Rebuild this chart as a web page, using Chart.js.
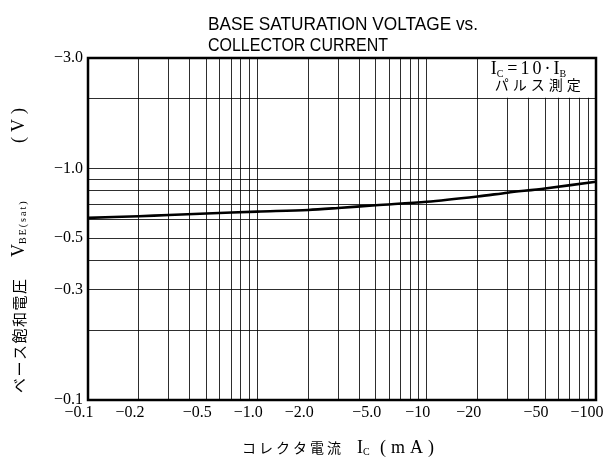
<!DOCTYPE html>
<html>
<head>
<meta charset="utf-8">
<script src="https://cdn.jsdelivr.net/npm/chart.js@4/dist/chart.umd.min.js"></script>
<style>
  html, body { margin: 0; padding: 0; background: #fff; }
  #wrap { width: 606px; height: 461px; }
</style>
</head>
<body>
<div id="wrap"><canvas id="chart" width="606" height="461"></canvas></div>
<script>
// Ic (mA, magnitude) vs VBE(sat) (V, magnitude); both are negative on the sheet
const currentMA = [0.1, 0.2, 0.3, 0.5, 1, 2, 3, 5, 10, 20, 30, 50, 100];
const vbeSat = [0.612, 0.622, 0.630, 0.639, 0.651, 0.662, 0.675, 0.694, 0.718, 0.757, 0.786, 0.820, 0.877];

const xGrid = [0.1, 0.2, 0.3, 0.4, 0.5, 0.6, 0.7, 0.8, 0.9, 1, 2, 3, 4, 5, 6, 7, 8, 9, 10, 20, 30, 40, 50, 60, 70, 80, 90, 100];
const xLabeled = [0.1, 0.2, 0.5, 1, 2, 5, 10, 20, 50, 100];
const xTickText = ['−0.1', '−0.2', '−0.5', '−1.0', '−2.0', '−5.0', '−10', '−20', '−50', '−100'];

const yGrid = [0.1, 0.2, 0.3, 0.4, 0.5, 0.6, 0.7, 0.8, 0.9, 1, 2, 3];
const yLabeled = [0.1, 0.3, 0.5, 1, 3];
const yTickText = ['−0.1', '−0.3', '−0.5', '−1.0', '−3.0'];

const TITLE = ['BASE SATURATION VOLTAGE vs.', 'COLLECTOR CURRENT'];
const NOTE_X0 = 20;   // note box spans from this current to the right edge
const NOTE_Y0 = 2;    // and from the top down to this voltage

const CJK = '"Noto Sans CJK JP"';
const SERIF = '"Liberation Serif"';
const GRID = 'rgba(0,0,0,0.82)';

const decor = {
  id: 'decor',
  beforeDatasetsDraw(chart) {
    const { ctx, chartArea: a, scales: { x, y } } = chart;
    const bx = x.getPixelForValue(NOTE_X0);
    const by = y.getPixelForValue(NOTE_Y0);
    ctx.save();
    ctx.fillStyle = '#fff';
    ctx.fillRect(bx + 1, a.top, a.right - bx - 1, by - a.top - 1);
    ctx.fillStyle = '#000';
    ctx.textBaseline = 'alphabetic';
    // Ic = 10·Ib
    let cx = bx + 13;
    const base = a.top + 16;
    ctx.font = '18px ' + SERIF;
    ctx.fillText('I', cx, base); cx += ctx.measureText('I').width;
    ctx.font = '10px ' + SERIF;
    ctx.fillText('C', cx, base + 3); cx += ctx.measureText('C').width + 4;
    ctx.font = '18px ' + SERIF;
    ctx.letterSpacing = '3px';
    ctx.fillText('=10·I', cx, base); cx += ctx.measureText('=10·I').width - 3;
    ctx.letterSpacing = '0px';
    ctx.font = '10px ' + SERIF;
    ctx.fillText('B', cx, base + 3);
    ctx.font = '14px ' + CJK;
    ctx.letterSpacing = '4px';
    ctx.fillText('パルス測定', bx + 17, a.top + 32);
    ctx.restore();
  },
  afterDraw(chart) {
    const { ctx, chartArea: a } = chart;
    ctx.save();
    ctx.strokeStyle = '#000';
    ctx.lineWidth = 2.5;
    ctx.strokeRect(a.left, a.top, a.right - a.left, a.bottom - a.top);

    ctx.fillStyle = '#000';
    ctx.textBaseline = 'alphabetic';
    ctx.font = '19px "Liberation Sans"';
    ctx.fillText(TITLE[0], 208, 30, 270);
    ctx.fillText(TITLE[1], 208, 51, 180);

    // x axis title
    ctx.textBaseline = 'middle';
    const ty = 448;
    ctx.font = '14px ' + CJK;
    ctx.letterSpacing = '3px';
    ctx.fillText('コレクタ電流', 242, ty);
    ctx.letterSpacing = '0px';
    ctx.font = '18px ' + SERIF;
    ctx.fillText('I', 357, ty);
    ctx.font = '10px ' + SERIF;
    ctx.fillText('C', 363, ty + 4);
    ctx.font = '18px ' + SERIF;
    ctx.letterSpacing = '5px';
    ctx.fillText('(mA)', 380, ty);

    // y axis title, rotated
    ctx.translate(19, 393);
    ctx.rotate(-Math.PI / 2);
    ctx.font = '15px ' + CJK;
    ctx.letterSpacing = '1.5px';
    ctx.fillText('ベース飽和電圧', 0, 0);
    ctx.letterSpacing = '0px';
    ctx.font = '18px ' + SERIF;
    ctx.fillText('V', 136, 0);
    ctx.font = '10px ' + SERIF;
    ctx.letterSpacing = '2px';
    ctx.fillText('BE(sat)', 149, 4);
    ctx.font = '18px ' + SERIF;
    ctx.letterSpacing = '5px';
    ctx.fillText('(V)', 250, 0);
    ctx.restore();
  }
};

function pickLabel(values, texts) {
  return v => {
    const i = values.findIndex(t => Math.abs(t - v) < 1e-9);
    return i < 0 ? '' : texts[i];
  };
}

new Chart(document.getElementById('chart'), {
  type: 'line',
  data: {
    datasets: [{
      data: currentMA.map((c, i) => ({ x: c, y: vbeSat[i] })),
      borderColor: '#000',
      borderWidth: 2.6,
      pointRadius: 0,
      tension: 0.3,
      fill: false,
    }],
  },
  options: {
    responsive: false,
    animation: false,
    devicePixelRatio: 1,
    layout: { padding: { left: 0, right: 10, top: 58, bottom: 0 } },
    plugins: { legend: { display: false }, tooltip: { enabled: false }, title: { display: false } },
    scales: {
      x: {
        type: 'logarithmic',
        min: 0.1,
        max: 100,
        afterBuildTicks: s => { s.ticks = xGrid.map(v => ({ value: v })); },
        afterFit: s => { s.height = 61; s.paddingLeft = 0; s.paddingRight = 0; },
        grid: { color: GRID, lineWidth: 1, drawTicks: false },
        border: { display: false },
        ticks: {
          autoSkip: false,
          maxRotation: 0,
          padding: 3,
          labelOffset: -9,
          color: '#000',
          font: { family: 'Liberation Serif', size: 16 },
          callback: pickLabel(xLabeled, xTickText),
        },
      },
      y: {
        type: 'logarithmic',
        min: 0.1,
        max: 3,
        afterBuildTicks: s => { s.ticks = yGrid.map(v => ({ value: v })); },
        afterFit: s => { s.width = 88; s.paddingTop = 0; s.paddingBottom = 0; },
        grid: { color: GRID, lineWidth: 1, drawTicks: false },
        border: { display: false },
        ticks: {
          autoSkip: false,
          padding: 5,
          color: '#000',
          font: { family: 'Liberation Serif', size: 16 },
          callback: pickLabel(yLabeled, yTickText),
        },
      },
    },
  },
  plugins: [decor],
});
</script>
</body>
</html>
